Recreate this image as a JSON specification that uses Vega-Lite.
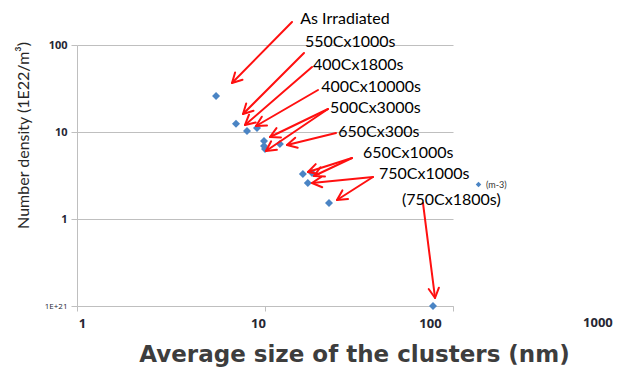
{
  "$schema": "https://vega.github.io/schema/vega-lite/v6.json",
  "width": 376,
  "height": 261,
  "autosize": {"type": "none"},
  "padding": {"left": 77, "top": 45, "right": 178, "bottom": 61},
  "background": "white",
  "config": {"view": {"stroke": null}, "font": "Lato"},
  "datasets": {
    "points": [
      {"size": 5.49, "density": 25.9, "s": "(m-3)"},
      {"size": 7.01, "density": 12.4, "s": "(m-3)"},
      {"size": 8.02, "density": 10.3, "s": "(m-3)"},
      {"size": 9.07, "density": 11.1, "s": "(m-3)"},
      {"size": 9.88, "density": 7.88, "s": "(m-3)"},
      {"size": 9.88, "density": 6.9, "s": "(m-3)"},
      {"size": 10.0, "density": 6.38, "s": "(m-3)"},
      {"size": 12.0, "density": 7.28, "s": "(m-3)"},
      {"size": 15.9, "density": 3.29, "s": "(m-3)"},
      {"size": 17.8, "density": 3.38, "s": "(m-3)"},
      {"size": 16.9, "density": 2.59, "s": "(m-3)"},
      {"size": 21.9, "density": 1.53, "s": "(m-3)"},
      {"size": 78.3, "density": 0.1, "s": "(m-3)"}
    ],
    "arrows": [
      {"id": "a1s", "o": 0, "size": 13.92, "density": 183.8},
      {"id": "a1s", "o": 1, "size": 6.675, "density": 36.58},
      {"id": "a1h", "o": 0, "size": 7.592, "density": 39.92},
      {"id": "a1h", "o": 1, "size": 6.675, "density": 36.58},
      {"id": "a1h", "o": 2, "size": 6.934, "density": 48.31},
      {"id": "a2s", "o": 0, "size": 16.12, "density": 80.91},
      {"id": "a2s", "o": 1, "size": 7.638, "density": 16.10},
      {"id": "a2h", "o": 0, "size": 8.688, "density": 17.53},
      {"id": "a2h", "o": 1, "size": 7.638, "density": 16.10},
      {"id": "a2h", "o": 2, "size": 7.943, "density": 21.27},
      {"id": "a3s", "o": 0, "size": 17.78, "density": 55.86},
      {"id": "a3s", "o": 1, "size": 7.829, "density": 12.04},
      {"id": "a3h", "o": 0, "size": 8.925, "density": 12.86},
      {"id": "a3h", "o": 1, "size": 7.829, "density": 12.04},
      {"id": "a3h", "o": 2, "size": 8.221, "density": 15.81},
      {"id": "a4s", "o": 0, "size": 19.14, "density": 30.40},
      {"id": "a4s", "o": 1, "size": 8.959, "density": 11.72},
      {"id": "a4h", "o": 0, "size": 10.25, "density": 11.85},
      {"id": "a4h", "o": 1, "size": 8.959, "density": 11.72},
      {"id": "a4h", "o": 2, "size": 9.616, "density": 14.99},
      {"id": "a5s", "o": 0, "size": 21.63, "density": 18.38},
      {"id": "a5s", "o": 1, "size": 10.63, "density": 8.762},
      {"id": "a5h", "o": 0, "size": 12.16, "density": 8.667},
      {"id": "a5h", "o": 1, "size": 10.63, "density": 8.762},
      {"id": "a5h", "o": 2, "size": 11.51, "density": 11.09},
      {"id": "a6s", "o": 0, "size": 21.63, "density": 18.38},
      {"id": "a6s", "o": 1, "size": 10.12, "density": 6.047},
      {"id": "a6h", "o": 0, "size": 11.57, "density": 6.244},
      {"id": "a6h", "o": 1, "size": 10.12, "density": 6.047},
      {"id": "a6h", "o": 2, "size": 10.78, "density": 7.818},
      {"id": "a7s", "o": 0, "size": 23.86, "density": 9.739},
      {"id": "a7s", "o": 1, "size": 13.09, "density": 7.089},
      {"id": "a7h", "o": 0, "size": 14.93, "density": 6.601},
      {"id": "a7h", "o": 1, "size": 13.09, "density": 7.089},
      {"id": "a7h", "o": 2, "size": 14.48, "density": 8.601},
      {"id": "a8s", "o": 0, "size": 29.03, "density": 5.024},
      {"id": "a8s", "o": 1, "size": 16.93, "density": 3.469},
      {"id": "a8h", "o": 0, "size": 19.33, "density": 3.291},
      {"id": "a8h", "o": 1, "size": 16.93, "density": 3.469},
      {"id": "a8h", "o": 2, "size": 18.61, "density": 4.276},
      {"id": "a9s", "o": 0, "size": 29.03, "density": 5.024},
      {"id": "a9s", "o": 1, "size": 18.22, "density": 3.121},
      {"id": "a9h", "o": 0, "size": 20.85, "density": 3.080},
      {"id": "a9h", "o": 1, "size": 18.22, "density": 3.121},
      {"id": "a9h", "o": 2, "size": 19.76, "density": 3.939},
      {"id": "a10s", "o": 0, "size": 37.53, "density": 3.039},
      {"id": "a10s", "o": 1, "size": 17.78, "density": 2.593},
      {"id": "a10h", "o": 0, "size": 20.16, "density": 2.320},
      {"id": "a10h", "o": 1, "size": 17.78, "density": 2.593},
      {"id": "a10h", "o": 2, "size": 19.91, "density": 3.047},
      {"id": "a11s", "o": 0, "size": 37.53, "density": 3.039},
      {"id": "a11s", "o": 1, "size": 24.15, "density": 1.654},
      {"id": "a11h", "o": 0, "size": 27.64, "density": 1.694},
      {"id": "a11h", "o": 1, "size": 24.15, "density": 1.654},
      {"id": "a11h", "o": 2, "size": 25.80, "density": 2.132},
      {"id": "a12s", "o": 0, "size": 69.25, "density": 1.527},
      {"id": "a12s", "o": 1, "size": 80.25, "density": 0.1236},
      {"id": "a12h", "o": 0, "size": 84.14, "density": 0.1623},
      {"id": "a12h", "o": 1, "size": 80.25, "density": 0.1236},
      {"id": "a12h", "o": 2, "size": 74.25, "density": 0.1568}
    ],
    "labels": [
      {"label": "As Irradiated", "size": 15.4, "density": 199},
      {"label": "550Cx1000s", "size": 16.3, "density": 108},
      {"label": "400Cx1800s", "size": 18.0, "density": 58.9},
      {"label": "400Cx10000s", "size": 19.9, "density": 32.9},
      {"label": "500Cx3000s", "size": 22.2, "density": 18.9},
      {"label": "650Cx300s", "size": 24.5, "density": 10.0},
      {"label": "650Cx1000s", "size": 33.2, "density": 5.74},
      {"label": "750Cx1000s", "size": 40.4, "density": 3.29},
      {"label": "(750Cx1800s)", "size": 53.5, "density": 1.66}
    ],
    "extraTick": [
      {"label": "1000", "size": 590, "density": 0.0638}
    ]
  },
  "encoding": {
    "x": {
      "field": "size",
      "type": "quantitative",
      "scale": {"type": "log", "domain": [1, 100], "nice": false},
      "axis": {
        "values": [1, 10, 100],
        "labelExpr": "format(datum.value, 'd')",
        "grid": false,
        "domainColor": "#bfbfbf",
        "tickColor": "#bfbfbf",
        "tickSize": 5,
        "labelFont": "Open Sans",
        "labelFontSize": 13,
        "labelFontWeight": "bold",
        "labelColor": "#262633",
        "labelPadding": 6,
        "labelFlush": false,
        "labelOffset": {"condition": [{"test": "datum.value == 1", "value": 5}, {"test": "datum.value == 10", "value": -7}], "value": -23},
        "title": "Average size of the clusters (nm)",
        "titleFont": "DejaVu Sans",
        "titleFontSize": 23,
        "titleFontWeight": "bold",
        "titleColor": "#3d3d3d",
        "titleX": 277,
        "titleY": 55,
        "titleAlign": "center",
        "titleBaseline": "alphabetic"
      }
    },
    "y": {
      "field": "density",
      "type": "quantitative",
      "scale": {"type": "log", "domain": [0.1, 100], "nice": false},
      "axis": {
        "values": [0.1, 1, 10, 100],
        "labelExpr": "datum.value < 0.5 ? '1E+21' : format(datum.value, 'd')",
        "grid": true,
        "gridColor": "#bfbfbf",
        "domainColor": "#bfbfbf",
        "tickColor": "#bfbfbf",
        "tickSize": 6,
        "labelFont": "Open Sans",
        "labelFontSize": {"condition": {"test": "datum.value < 0.5", "value": 8}, "value": 11},
        "labelFontWeight": {"condition": {"test": "datum.value < 0.5", "value": "normal"}, "value": "bold"},
        "labelColor": "#262633",
        "labelPadding": 4,
        "title": "Number density (1E22/m³)",
        "titleFont": "Lato",
        "titleFontSize": 16,
        "titleFontWeight": "normal",
        "titleColor": "#262626",
        "titleX": -54,
        "titleY": 90,
        "titleAngle": -90,
        "titleAlign": "center",
        "titleBaseline": "middle"
      }
    }
  },
  "layer": [
    {
      "data": {"name": "points"},
      "mark": {"type": "point", "shape": "diamond", "filled": true, "size": 64, "opacity": 1},
      "encoding": {
        "color": {
          "field": "s",
          "type": "nominal",
          "scale": {"range": ["#4a84c4"]},
          "legend": {
            "orient": "none",
            "legendX": 397,
            "legendY": 135,
            "title": null,
            "padding": 0,
            "symbolType": "diamond",
            "symbolSize": 30,
            "labelFont": "Lato",
            "labelFontSize": 9,
            "labelColor": "#333333",
            "labelOffset": 3
          }
        }
      }
    },
    {
      "data": {"name": "arrows"},
      "mark": {"type": "line", "color": "#ff1010", "strokeWidth": 2, "strokeJoin": "round", "strokeCap": "round"},
      "encoding": {
        "detail": {"field": "id", "type": "nominal"},
        "order": {"field": "o", "type": "quantitative"}
      }
    },
    {
      "data": {"name": "labels"},
      "mark": {"type": "text", "align": "left", "baseline": "middle", "font": "Lato", "fontSize": 16, "color": "#000000"},
      "encoding": {"text": {"field": "label"}}
    },
    {
      "data": {"name": "extraTick"},
      "mark": {"type": "text", "align": "center", "baseline": "middle", "font": "Open Sans", "fontSize": 13, "fontWeight": "bold", "color": "#262633"},
      "encoding": {"text": {"field": "label"}}
    }
  ]
}
